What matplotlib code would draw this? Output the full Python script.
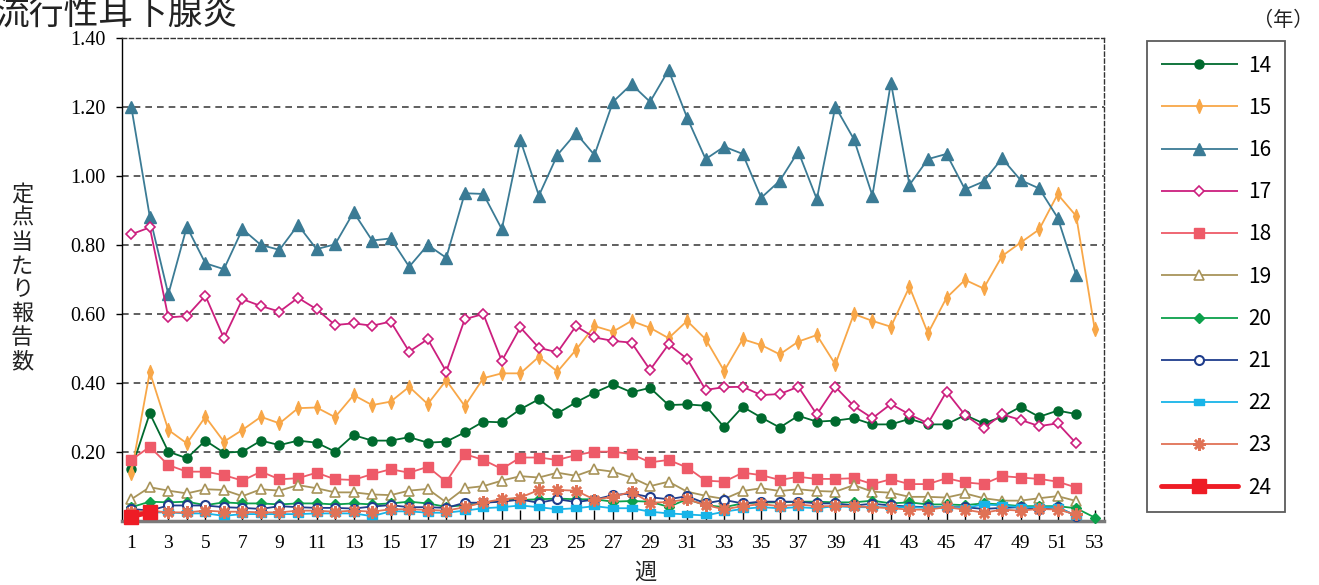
import numpy as np
import matplotlib
matplotlib.use("Agg")
import matplotlib.pyplot as plt
from matplotlib.ticker import FixedLocator

plt.rcParams['font.family'] = ['Noto Sans CJK JP', 'DejaVu Sans']

weeks = np.arange(1, 54)

s14 = [0.150, 0.312, 0.201, 0.182, 0.233, 0.198, 0.201, 0.233, 0.220, 0.233,
       0.227, 0.201, 0.249, 0.233, 0.233, 0.243, 0.227, 0.230, 0.257, 0.288,
       0.286, 0.324, 0.353, 0.312, 0.344, 0.372, 0.396, 0.373, 0.386, 0.336,
       0.338, 0.334, 0.272, 0.331, 0.300, 0.271, 0.305, 0.288, 0.291, 0.298,
       0.280, 0.280, 0.296, 0.280, 0.280, 0.307, 0.283, 0.302, 0.331, 0.302,
       0.320, 0.310]
s15 = [0.138, 0.432, 0.264, 0.225, 0.302, 0.230, 0.264, 0.302, 0.283, 0.327,
       0.329, 0.301, 0.365, 0.336, 0.346, 0.389, 0.339, 0.408, 0.333, 0.414,
       0.428, 0.428, 0.476, 0.433, 0.496, 0.565, 0.549, 0.580, 0.560, 0.530,
       0.580, 0.527, 0.435, 0.527, 0.510, 0.483, 0.520, 0.539, 0.454, 0.600,
       0.580, 0.563, 0.679, 0.544, 0.647, 0.699, 0.674, 0.768, 0.807, 0.845,
       0.947, 0.884, 0.556]
s16 = [1.201, 0.882, 0.657, 0.853, 0.747, 0.730, 0.846, 0.800, 0.786, 0.858,
       0.788, 0.802, 0.895, 0.813, 0.819, 0.737, 0.800, 0.763, 0.950, 0.948,
       0.846, 1.104, 0.943, 1.061, 1.124, 1.061, 1.215, 1.266, 1.215, 1.307,
       1.169, 1.049, 1.085, 1.064, 0.937, 0.986, 1.071, 0.933, 1.201, 1.107,
       0.943, 1.271, 0.974, 1.049, 1.064, 0.961, 0.984, 1.051, 0.988, 0.964,
       0.879, 0.713]
s17 = [0.831, 0.851, 0.590, 0.594, 0.653, 0.530, 0.643, 0.623, 0.607, 0.647,
       0.614, 0.568, 0.573, 0.566, 0.578, 0.491, 0.527, 0.433, 0.585, 0.600,
       0.464, 0.561, 0.502, 0.489, 0.565, 0.532, 0.522, 0.517, 0.438, 0.512,
       0.470, 0.380, 0.388, 0.389, 0.365, 0.368, 0.389, 0.309, 0.389, 0.333,
       0.298, 0.339, 0.309, 0.283, 0.375, 0.307, 0.269, 0.309, 0.293, 0.275,
       0.283, 0.225]
s18 = [0.177, 0.215, 0.162, 0.143, 0.143, 0.133, 0.117, 0.143, 0.121, 0.124,
       0.140, 0.121, 0.119, 0.136, 0.150, 0.140, 0.157, 0.114, 0.194, 0.177,
       0.151, 0.184, 0.184, 0.177, 0.191, 0.201, 0.201, 0.194, 0.170, 0.177,
       0.155, 0.117, 0.114, 0.140, 0.133, 0.119, 0.128, 0.122, 0.122, 0.124,
       0.107, 0.121, 0.107, 0.107, 0.124, 0.112, 0.107, 0.130, 0.126, 0.122,
       0.114, 0.097]
s19 = [0.063, 0.098, 0.088, 0.080, 0.092, 0.090, 0.072, 0.092, 0.088, 0.104,
       0.095, 0.083, 0.083, 0.077, 0.075, 0.088, 0.093, 0.054, 0.095, 0.101,
       0.117, 0.130, 0.126, 0.140, 0.131, 0.150, 0.143, 0.126, 0.101, 0.114,
       0.085, 0.073, 0.064, 0.087, 0.095, 0.087, 0.092, 0.087, 0.085, 0.104,
       0.085, 0.082, 0.070, 0.070, 0.068, 0.080, 0.066, 0.059, 0.059, 0.066,
       0.072, 0.058]
s20 = [0.040, 0.056, 0.054, 0.056, 0.046, 0.054, 0.051, 0.051, 0.048, 0.051,
       0.051, 0.048, 0.051, 0.048, 0.051, 0.056, 0.051, 0.041, 0.046, 0.051,
       0.061, 0.061, 0.063, 0.065, 0.063, 0.063, 0.056, 0.058, 0.056, 0.041,
       0.063, 0.046, 0.040, 0.051, 0.054, 0.054, 0.056, 0.056, 0.054, 0.054,
       0.059, 0.051, 0.054, 0.048, 0.048, 0.046, 0.051, 0.048, 0.043, 0.043,
       0.043, 0.037, 0.010]
s21 = [0.035, 0.030, 0.045, 0.045, 0.045, 0.040, 0.038, 0.035, 0.043, 0.040,
       0.038, 0.038, 0.036, 0.042, 0.046, 0.040, 0.040, 0.038, 0.053, 0.053,
       0.056, 0.062, 0.053, 0.063, 0.055, 0.062, 0.075, 0.080, 0.069, 0.063,
       0.072, 0.051, 0.061, 0.051, 0.056, 0.056, 0.056, 0.051, 0.051, 0.045,
       0.050, 0.045, 0.042, 0.040, 0.040, 0.040, 0.035, 0.038, 0.040, 0.035,
       0.040, 0.015]
s22 = [0.020, 0.025, 0.025, 0.022, 0.022, 0.015, 0.020, 0.020, 0.020, 0.020,
       0.022, 0.022, 0.022, 0.014, 0.028, 0.028, 0.024, 0.024, 0.030, 0.037,
       0.040, 0.045, 0.040, 0.034, 0.037, 0.043, 0.037, 0.037, 0.027, 0.022,
       0.019, 0.016, 0.027, 0.035, 0.040, 0.037, 0.040, 0.037, 0.043, 0.040,
       0.040, 0.040, 0.040, 0.038, 0.040, 0.038, 0.048, 0.045, 0.040, 0.040,
       0.040, 0.015]
s23 = [0.025, 0.030, 0.025, 0.025, 0.030, 0.027, 0.027, 0.025, 0.025, 0.030,
       0.030, 0.027, 0.030, 0.027, 0.034, 0.034, 0.032, 0.030, 0.040, 0.054,
       0.063, 0.068, 0.090, 0.090, 0.088, 0.062, 0.070, 0.085, 0.053, 0.055,
       0.063, 0.046, 0.034, 0.043, 0.049, 0.043, 0.048, 0.043, 0.043, 0.043,
       0.040, 0.037, 0.033, 0.033, 0.040, 0.033, 0.024, 0.033, 0.030, 0.035,
       0.033, 0.019]
s24 = [0.013, 0.025]

years = ['14', '15', '16', '17', '18', '19', '20', '21', '22', '23', '24']
values = [s14, s15, s16, s17, s18, s19, s20, s21, s22, s23, s24]

thin_diamond = [(0, -1), (0.42, 0), (0, 1), (-0.42, 0), (0, -1)]
flat_square = [(-1, -0.7), (1, -0.7), (1, 0.7), (-1, 0.7), (-1, -0.7)]

styles = {
    '14': dict(color='#006a2e', marker='o', ms=6.5, mfc='#006a2e', lw=1.3),
    '15': dict(color='#f8a748', marker=thin_diamond, ms=10, mfc='#f8a748', lw=1.3),
    '16': dict(color='#3b7b95', marker='^', ms=8, mfc='#3b7b95', lw=1.3),
    '17': dict(color='#cc1f7e', marker='D', ms=5.5, mfc='white', mew=1.2, lw=1.3),
    '18': dict(color='#ee5a68', marker='s', ms=7, mfc='#ee5a68', lw=1.3),
    '19': dict(color='#a8945a', marker='^', ms=7.5, mfc='white', mew=1.2, lw=1.3),
    '20': dict(color='#0ca04b', marker='D', ms=5.5, mfc='#0ca04b', lw=1.3),
    '21': dict(color='#1f3d8c', marker='o', ms=6.5, mfc='white', mew=1.5, lw=1.3),
    '22': dict(color='#18b4e8', marker=flat_square, ms=7, mfc='#18b4e8', lw=1.3),
    '23': dict(color='#e07256', marker=(8, 2, 0), ms=9, mfc='#e07256', mew=1.8, lw=1.3),
    '24': dict(color='#ee1c25', marker='s', ms=10, mfc='#ee1c25', lw=3.5,
               solid_capstyle='round'),
}

fig = plt.figure(figsize=(13.19, 5.85), dpi=100)
ax = fig.add_axes([122 / 1319, 1 - 521 / 585, 982 / 1319, 483 / 585])

for g in [0.2, 0.4, 0.6, 0.8, 1.0, 1.2]:
    ax.axhline(g, color='#444444', lw=1.2, dashes=(4, 3), zorder=1)

handles = []
for yr, vals in zip(years, values):
    st = styles[yr]
    line, = ax.plot(weeks[:len(vals)], vals, color=st['color'], lw=st['lw'],
                    marker=st['marker'], ms=st['ms'], mfc=st['mfc'],
                    mec=st['color'], mew=st.get('mew', 1.0),
                    solid_capstyle=st.get('solid_capstyle', 'butt'),
                    clip_on=False, zorder=3)
    handles.append(line)

ax.set_xlim(0.5, 53.5)
ax.set_ylim(0, 1.4)

ax.xaxis.set_major_locator(FixedLocator(list(range(1, 54, 2))))
ax.xaxis.set_minor_locator(FixedLocator(list(range(2, 53, 2))))
ax.set_xticklabels([str(w) for w in range(1, 54, 2)], family='Liberation Serif', fontsize=14)
ax.tick_params(axis='x', which='both', direction='in', length=8, width=1, color='black', pad=10)

yt = [0.2, 0.4, 0.6, 0.8, 1.0, 1.2, 1.4]
ax.set_yticks(yt)
ax.set_yticklabels(['%.2f' % v for v in yt], family='Liberation Serif', fontsize=14.5)
ax.tick_params(axis='y', direction='out', length=4, width=1, color='black', pad=8)

ax.spines['left'].set_color('black')
ax.spines['left'].set_linewidth(1.0)
ax.spines['bottom'].set_color('#7a7a7a')
ax.spines['bottom'].set_linewidth(2.5)
for side in ['top', 'right']:
    ax.spines[side].set_color('#333333')
    ax.spines[side].set_linewidth(1.0)
    ax.spines[side].set_linestyle((0, (3, 2)))

fig.text(-5 / 1319, 1 - 24 / 585, '流行性耳下腺炎', fontsize=25, ha='left', va='baseline', color='#222222')
fig.text(1283 / 1319, 1 - 21 / 585, '（年）', fontsize=14.5, ha='center', va='center', color='#222222')
fig.text(22 / 1319, 1 - 278 / 585, '\n'.join('定点当たり報告数'), fontsize=16, ha='center',
         va='center', linespacing=1.05, color='#222222')
fig.text(645 / 1319, 1 - 572 / 585, '週', fontsize=16, ha='center', va='center', color='#222222')

leg = fig.legend(handles, years, loc='upper left', bbox_to_anchor=(1147 / 1319, 1 - 41 / 585),
                 frameon=True, fancybox=False, edgecolor='#333333', borderaxespad=0,
                 handlelength=3.7, handletextpad=0.5, labelspacing=0.97, borderpad=0.65,
                 fontsize=15, numpoints=1)
leg.get_frame().set_linewidth(1.3)

fig.savefig('out.png', dpi=100)
